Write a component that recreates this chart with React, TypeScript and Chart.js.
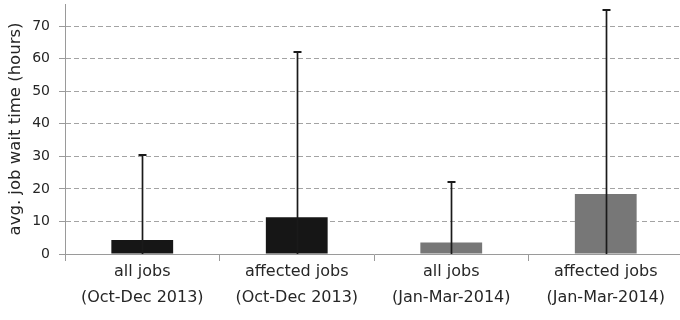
import { useEffect, useRef } from "react";
import { Chart, registerables } from "chart.js";

Chart.register(...registerables);

// Job groups, two-line labels
const categories: string[][] = [
  ["all jobs", "(Oct-Dec 2013)"],
  ["affected jobs", "(Oct-Dec 2013)"],
  ["all jobs", "(Jan-Mar-2014)"],
  ["affected jobs", "(Jan-Mar-2014)"],
];

// Mean wait time per group (hours)
const avgWaitHours: number[] = [4.3, 11.3, 3.5, 18.4];

// Upper deviation drawn as an error whisker above each mean (hours)
const upperDeviation: number[] = [26.1, 50.7, 18.6, 56.6];

const barColors: string[] = ["#161616", "#161616", "#777777", "#777777"];

const yAxisTitle = "avg. job wait time (hours)";
const yMax = 76.8;
const yStep = 10;

const FONT = "'DejaVu Sans', sans-serif";
const TEXT = "#262626";
const AXIS = "#9a9a9a";

// Whiskers: a line from the baseline up to mean + deviation, with a short cap
const errorBars = {
  id: "errorBars",
  afterDatasetsDraw(chart: any) {
    const meta = chart.getDatasetMeta(0);
    const yScale = chart.scales.y;
    const ctx = chart.ctx as CanvasRenderingContext2D;
    ctx.save();
    ctx.strokeStyle = "#1a1a1a";
    meta.data.forEach((bar: any, i: number) => {
      const x = Math.round(bar.x) + 0.5;
      const yBase = yScale.getPixelForValue(0);
      const yTop = Math.round(yScale.getPixelForValue(avgWaitHours[i] + upperDeviation[i]));
      ctx.lineWidth = 1.7;
      ctx.beginPath();
      ctx.moveTo(x, yBase);
      ctx.lineTo(x, yTop);
      ctx.stroke();
      ctx.lineWidth = 2;
      ctx.beginPath();
      ctx.moveTo(x - 4, yTop);
      ctx.lineTo(x + 4, yTop);
      ctx.stroke();
    });
    ctx.restore();
  },
};

export default function App() {
  const canvasRef = useRef<HTMLCanvasElement | null>(null);

  useEffect(() => {
    if (!canvasRef.current) return;
    const chart = new Chart(canvasRef.current, {
      type: "bar",
      data: {
        labels: categories,
        datasets: [
          {
            data: avgWaitHours,
            backgroundColor: barColors,
            borderWidth: 0,
            barPercentage: 0.4,
            categoryPercentage: 1,
          },
        ],
      },
      options: {
        responsive: false,
        animation: false,
        devicePixelRatio: 1,
        layout: { padding: { top: 4, right: 0, bottom: 0, left: 0 } },
        plugins: {
          legend: { display: false },
          tooltip: { enabled: false },
        },
        scales: {
          x: {
            offset: true,
            grid: {
              display: true,
              offset: true,
              drawOnChartArea: false,
              drawTicks: true,
              tickLength: 7,
              tickColor: AXIS,
              tickWidth: 1,
            },
            border: { display: true, color: AXIS, width: 1 },
            ticks: {
              color: TEXT,
              font: { family: FONT, size: 16, lineHeight: 1.625 },
              padding: -2,
              maxRotation: 0,
              minRotation: 0,
              autoSkip: false,
            },
            afterFit(scale: any) {
              scale.height = 66;
              scale.paddingLeft = 0;
              scale.paddingRight = 0;
            },
          },
          y: {
            min: 0,
            max: yMax,
            grid: {
              color: (ctx: any) => (ctx.tick && ctx.tick.value === 0 ? "rgba(0,0,0,0)" : "#a3a3a3"),
              lineWidth: 1,
              drawTicks: true,
              tickLength: 6,
              tickColor: AXIS,
              tickBorderDash: [],
            },
            border: { display: true, color: AXIS, width: 1, dash: [5, 3] },
            ticks: {
              stepSize: yStep,
              includeBounds: false,
              color: TEXT,
              font: { family: FONT, size: 14 },
              padding: 9,
            },
            title: {
              display: true,
              text: yAxisTitle,
              color: TEXT,
              font: { family: FONT, size: 16.5 },
              padding: { top: 6, bottom: 0 },
            },
            afterFit(scale: any) {
              scale.width = 65;
              scale.paddingTop = 0;
              scale.paddingBottom = 0;
            },
          },
        },
      },
      plugins: [errorBars],
    });
    return () => chart.destroy();
  }, []);

  return (
    <div
      style={{
        position: "absolute",
        left: 0,
        top: 0,
        width: 680,
        height: 320,
        overflow: "hidden",
        background: "#ffffff",
      }}
    >
      <canvas ref={canvasRef} width={683} height={320} style={{ display: "block" }} />
    </div>
  );
}
